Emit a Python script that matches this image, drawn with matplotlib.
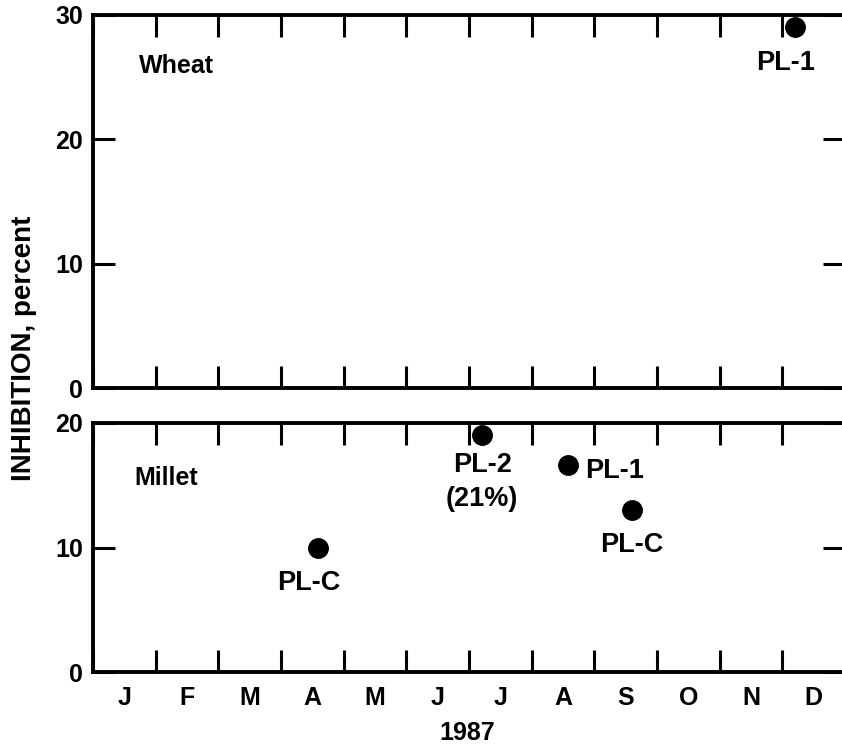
import numpy as np
import matplotlib.pyplot as plt

plt.rcParams['font.family'] = ['Liberation Sans', 'DejaVu Sans']
plt.rcParams['font.weight'] = 'bold'

months = ['J', 'F', 'M', 'A', 'M', 'J', 'J', 'A', 'S', 'O', 'N', 'D']

# month position (0 = start of Jan), inhibition in percent
wheat_x = [11.2]
wheat_y = [29.0]
wheat_lab = ['PL-1']

millet_x = [3.59, 6.21, 7.58, 8.6]
millet_y = [10.0, 19.0, 16.6, 13.0]
millet_lab = ['PL-C', 'PL-2\n(21%)', 'PL-1', 'PL-C']
# label offsets in points, alignments
millet_off = [(-7, -16), (0, -12), (12, -4), (0, -16)]
millet_ha = ['center', 'center', 'left', 'center']
millet_va = ['top', 'top', 'center', 'top']

W, H = 842, 751
fig = plt.figure(figsize=(W / 100, H / 100), dpi=100)
left = 93 / W
width = 752 / W
ax1 = fig.add_axes([left, (H - 388) / H, width, 373 / H])
ax2 = fig.add_axes([left, (H - 672) / H, width, 249 / H])

lw = 2.8
for ax, ymax in ((ax1, 30), (ax2, 20)):
    ax.set_xlim(0, 12)
    ax.set_ylim(0, ymax)
    for s in ax.spines.values():
        s.set_linewidth(lw)
    ax.set_xticks(np.arange(0, 13))
    ax.set_xticks(np.arange(12) + 0.5, minor=True)
    ax.set_yticks(np.arange(0, ymax + 1, 10))
    ax.tick_params(axis='both', which='major', direction='in', length=16,
                   width=2.2, top=True, right=True, labelsize=18, pad=7)
    ax.tick_params(axis='x', which='major', labelbottom=False)
    ax.tick_params(axis='x', which='minor', length=0, labelsize=18, pad=10)

ax1.tick_params(axis='x', which='minor', labelbottom=False)
ax2.set_xticklabels(months, minor=True)

ax1.plot(wheat_x, wheat_y, 'o', color='black', markersize=14, clip_on=False)
for x, y, t in zip(wheat_x, wheat_y, wheat_lab):
    ax1.annotate(t, (x, y), xytext=(-7, -16), textcoords='offset points',
                 ha='center', va='top', fontsize=19.5)
ax1.text(0.74, 25.9, 'Wheat', fontsize=18, va='center')

ax2.plot(millet_x, millet_y, 'o', color='black', markersize=14, clip_on=False)
for x, y, t, o, ha, va in zip(millet_x, millet_y, millet_lab, millet_off, millet_ha, millet_va):
    ax2.annotate(t, (x, y), xytext=o, textcoords='offset points',
                 ha=ha, va=va, fontsize=19.5, linespacing=1.4)
ax2.text(0.66, 15.6, 'Millet', fontsize=18, va='center')

fig.text(467 / W, 1 - 733 / H, '1987', ha='center', va='center', fontsize=18)
fig.text(24 / W, 1 - 348 / H, 'INHIBITION, percent', rotation=90,
         ha='center', va='center', fontsize=20)

fig.savefig('out.png', dpi=100)
